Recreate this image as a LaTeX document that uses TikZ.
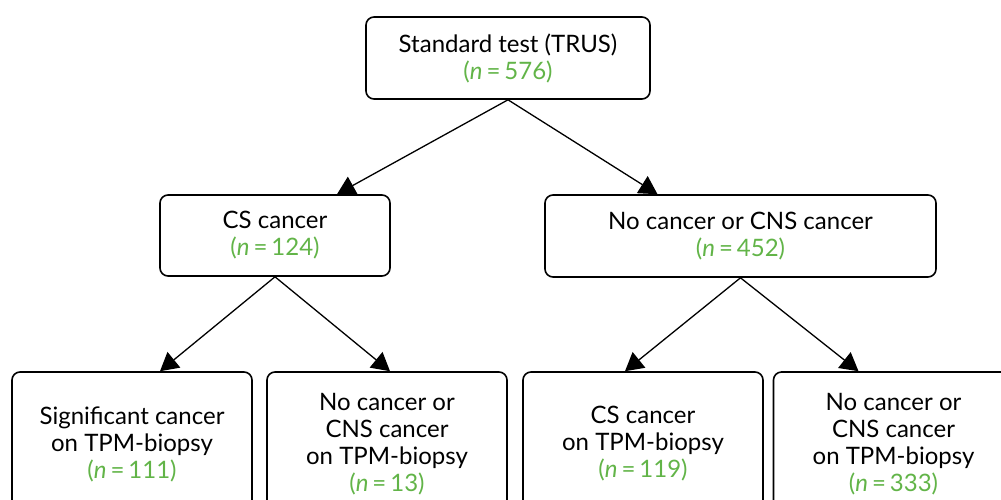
\documentclass[tikz,border=0pt]{standalone}
\usepackage{fontspec}
\setmainfont{Lato}
\usetikzlibrary{arrows.meta, positioning}
\definecolor{ngreen}{RGB}{98,180,72}
\newcommand{\nval}[1]{\textcolor{ngreen}{(\textit{n}\,=\,#1)}}

\begin{document}
\begin{tikzpicture}[x=1pt, y=-1pt,
		box/.style = {draw, line width=1.6pt, rounded corners=8pt, align=center,
			font=\fontsize{24}{27}\selectfont, inner sep=0pt},
		leaf/.style = {box, minimum width=240pt, minimum height=144pt},
		link/.style = {-{Triangle[length=18pt, width=20pt]}, line width=1.3pt}]
			\useasboundingbox (0,0) rectangle (1001,499);
			\clip (0,0) rectangle (1001,499);

			\node[box, minimum width=284pt, minimum height=82pt] (trus) at (508,58) {Standard test (TRUS)\\ \nval{576}};
			\node[box, minimum width=230pt, minimum height=81pt] (cs) at (275,235.5) {CS cancer\\ \nval{124}};
			\node[box, minimum width=391pt, minimum height=82pt] (ncs) at (740.5,236) {No cancer or CNS cancer\\ \nval{452}};

			\node[leaf] (cscs) at (132,444) {Significant cancer\\ on TPM-biopsy\\ \nval{111}};
			\node[leaf] (csno) at (387,444) {No cancer or\\ CNS cancer\\ on TPM-biopsy\\ \nval{13}};
			\node[leaf] (ncscs) at (643,444) {CS cancer\\ on TPM-biopsy\\ \nval{119}};
			\node[leaf] (ncsno) at (893.5,444) {No cancer or\\ CNS cancer\\ on TPM-biopsy\\ \nval{333}};


			\draw[link] (trus.south) -- ([xshift=62pt]cs.north);
			\draw[link] (trus.south) -- ([xshift=-83pt]ncs.north);
			\draw[link] (cs.south) -- ([xshift=28pt]cscs.north);
			\draw[link] (cs.south) -- ([xshift=3pt]csno.north);
			\draw[link] (ncs.south) -- ([xshift=-18pt]ncscs.north);
			\draw[link] (ncs.south) -- ([xshift=-35pt]ncsno.north);
		\end{tikzpicture}
\end{document}
